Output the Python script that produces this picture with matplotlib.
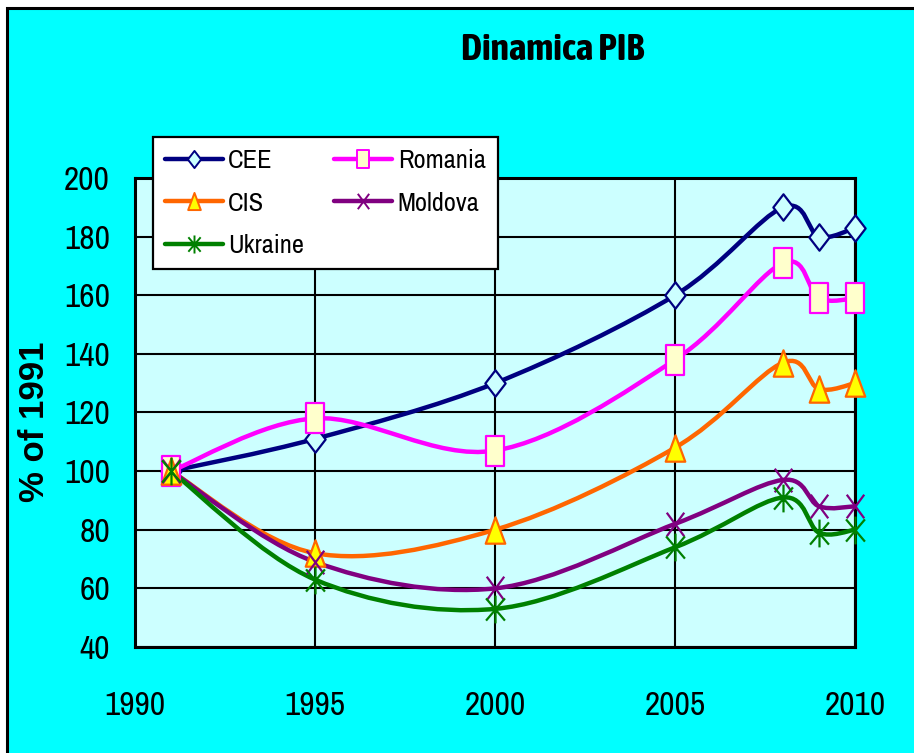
import numpy as np
import matplotlib.pyplot as plt
from matplotlib.path import Path
from matplotlib.patches import PathPatch, Rectangle
from matplotlib.lines import Line2D

# date (% din 1991)
years = [1991, 1995, 2000, 2005, 2008, 2009, 2010]
cee = [100, 111, 130, 160, 190, 180, 183]
romania = [100, 118, 107, 138, 171, 159, 159]
cis = [100, 72, 80, 108, 137, 128, 130]
moldova = [100, 69, 60, 82, 97, 88, 88]
ukraine = [100, 63, 53, 74, 91, 79, 80]

narrow = ['Archivo Narrow', 'Liberation Sans', 'DejaVu Sans']
narrow_bold = ['Asap Condensed', 'Liberation Sans', 'DejaVu Sans']
wide = ['Liberation Sans', 'DejaVu Sans']

# markere (mai inalte decat late, ca in Excel)
diamond = Path([(0, 1), (0.77, 0), (0, -1), (-0.77, 0), (0, 1)], closed=True)
square = Path([(-0.63, -1), (0.63, -1), (0.63, 1), (-0.63, 1), (-0.63, -1)], closed=True)
triangle = Path([(0, 1), (0.74, -1), (-0.74, -1), (0, 1)], closed=True)
xmark = Path([(-0.74, -1), (0.74, 1), (-0.74, 1), (0.74, -1)],
             [Path.MOVETO, Path.LINETO, Path.MOVETO, Path.LINETO])
star = Path([(-0.68, -0.8), (0.68, 0.8), (-0.68, 0.8), (0.68, -0.8), (0, -1), (0, 1)],
            [Path.MOVETO, Path.LINETO, Path.MOVETO, Path.LINETO, Path.MOVETO, Path.LINETO])

series = [
    ('CEE', cee, '#000080', diamond, '#CCFFFF', '#000080', 19),
    ('Romania', romania, '#FF00FF', square, '#FFFFCC', '#FF00FF', 21),
    ('CIS', cis, '#FF6600', triangle, '#FFFF00', '#FF6600', 19),
    ('Moldova', moldova, '#800080', xmark, 'none', '#800080', 17),
    ('Ukraine', ukraine, '#008000', star, 'none', '#008000', 20),
]


def smooth_path(x, y):
    # curba neteda tip Excel (Catmull-Rom -> Bezier)
    pts = np.column_stack([x, y]).astype(float)
    n = len(pts)
    verts = [pts[0]]
    codes = [Path.MOVETO]
    for i in range(n - 1):
        p0 = pts[i - 1] if i > 0 else pts[i]
        p1 = pts[i]
        p2 = pts[i + 1]
        p3 = pts[i + 2] if i + 2 < n else pts[i + 1]
        verts += [p1 + (p2 - p0) / 6, p2 - (p3 - p1) / 6, p2]
        codes += [Path.CURVE4] * 3
    return Path(verts, codes)


fig = plt.figure(figsize=(9.14, 7.53), dpi=100, facecolor='white')
fig.patches.append(Rectangle((7 / 914, -0.05), 1.1, 1.05 - 8 / 753, transform=fig.transFigure,
                             facecolor='#00FFFF', edgecolor='black', linewidth=2.2, zorder=-10))

ax = fig.add_axes([135 / 914, 1 - 647 / 753, 720 / 914, 469 / 753])
ax.set_facecolor('#CCFFFF')

handles = {}
for name, vals, col, mk, fc, ec, ms in series:
    ax.add_patch(PathPatch(smooth_path(years, vals), fill=False, edgecolor=col,
                           linewidth=3.2, capstyle='round', joinstyle='round', zorder=3,
                           clip_on=False))
    ax.plot(years, vals, linestyle='none', marker=mk, markersize=ms,
            markerfacecolor=fc, markeredgecolor=ec, markeredgewidth=1.6, zorder=4,
            clip_on=False)
    handles[name] = Line2D([], [], color=col, linewidth=3.2, solid_capstyle='round',
                           marker=mk, markersize=ms * 0.65, markerfacecolor=fc,
                           markeredgecolor=ec, markeredgewidth=1.4)

ax.set_xlim(1990, 2010)
ax.set_ylim(40, 200)
ax.set_xticks([1990, 1995, 2000, 2005, 2010])
ax.set_yticks(range(40, 201, 20))
ax.grid(True, color='black', linewidth=1.5)
ax.set_axisbelow(True)
for sp in ax.spines.values():
    sp.set_linewidth(2.2)
ax.tick_params(axis='x', length=0, pad=32, labelsize=24)
ax.tick_params(axis='y', length=0, pad=18, labelsize=24)
for lab in ax.get_xticklabels() + ax.get_yticklabels():
    lab.set_family(narrow)

order = ['CEE', 'CIS', 'Ukraine', 'Romania', 'Moldova']
leg = ax.legend([handles[k] for k in order], order, ncol=2, loc='upper left',
                bbox_to_anchor=(153 / 914, 1 - 137 / 753), bbox_transform=fig.transFigure,
                prop={'family': narrow, 'size': 19}, fancybox=False, framealpha=1,
                edgecolor='black', facecolor='white', handlelength=2.2, handletextpad=0.2,
                columnspacing=1.15, labelspacing=0.75, borderpad=0.45, borderaxespad=0)
leg.get_frame().set_linewidth(1.6)
leg.set_zorder(10)

fig.text(553 / 914, 1 - 50 / 753, 'Dinamica PIB', ha='center', va='center',
         fontsize=27, fontweight='bold', family=narrow_bold)
fig.text(35 / 914, 1 - 422 / 753, '% of 1991', ha='center', va='center', rotation=90,
         fontsize=25, fontweight='bold', family=wide)

fig.savefig('out.png', dpi=100, facecolor=fig.get_facecolor())
